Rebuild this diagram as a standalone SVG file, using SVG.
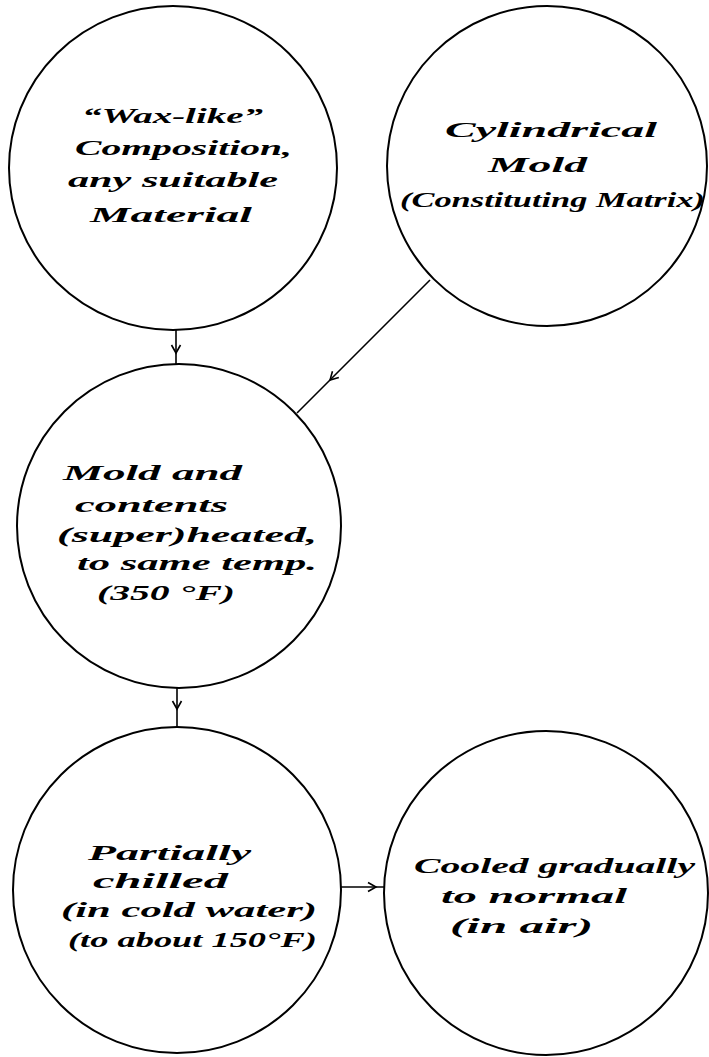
<svg xmlns="http://www.w3.org/2000/svg" width="709" height="1057" viewBox="0 0 709 1057">
<style>
.ring{fill:none;stroke:#000;stroke-width:2}
.lbl{font-family:"Liberation Serif","DejaVu Serif",serif;font-style:italic;font-weight:bold;font-size:22px;fill:#000}
.conn path{fill:none;stroke:#000;stroke-width:1.6}
</style>
<defs>
<marker id="chev" viewBox="-10 -6 12 12" markerWidth="12" markerHeight="12" refX="0" refY="0" orient="auto" markerUnits="userSpaceOnUse">
<path d="M-8,-4.5 L0,0 L-8,4.5" fill="none" stroke="#000" stroke-width="1.6"/>
</marker>
</defs>
<rect width="709" height="1057" fill="#fff"/>
<g id="wax">
<ellipse class="ring" cx="173" cy="168" rx="164" ry="162"/>
<text class="lbl" x="82" y="123" textLength="181" lengthAdjust="spacingAndGlyphs">“Wax-like”</text>
<text class="lbl" x="75" y="155" textLength="217" lengthAdjust="spacingAndGlyphs">Composition,</text>
<text class="lbl" x="68" y="187" textLength="210" lengthAdjust="spacingAndGlyphs">any suitable</text>
<text class="lbl" x="90" y="222" textLength="162" lengthAdjust="spacingAndGlyphs">Material</text>
</g>
<g id="mold">
<ellipse class="ring" cx="547" cy="166" rx="160" ry="160"/>
<text class="lbl" x="445" y="137" textLength="212" lengthAdjust="spacingAndGlyphs">Cylindrical</text>
<text class="lbl" x="488" y="172" textLength="99" lengthAdjust="spacingAndGlyphs">Mold</text>
<text class="lbl" x="400" y="207" textLength="305" lengthAdjust="spacingAndGlyphs">(Constituting Matrix)</text>
</g>
<g id="heated">
<ellipse class="ring" cx="179" cy="526" rx="162" ry="162"/>
<text class="lbl" x="63" y="480" textLength="179" lengthAdjust="spacingAndGlyphs">Mold and</text>
<text class="lbl" x="75" y="512" textLength="153" lengthAdjust="spacingAndGlyphs">contents</text>
<text class="lbl" x="57" y="542" textLength="260" lengthAdjust="spacingAndGlyphs">(super)heated,</text>
<text class="lbl" x="77" y="570" textLength="240" lengthAdjust="spacingAndGlyphs">to same temp.</text>
<text class="lbl" x="97" y="600" textLength="138" lengthAdjust="spacingAndGlyphs">(350 °F)</text>
</g>
<g id="chilled">
<ellipse class="ring" cx="177" cy="890" rx="164" ry="163"/>
<text class="lbl" x="88" y="860" textLength="163" lengthAdjust="spacingAndGlyphs">Partially</text>
<text class="lbl" x="93" y="888" textLength="135" lengthAdjust="spacingAndGlyphs">chilled</text>
<text class="lbl" x="61" y="917" textLength="256" lengthAdjust="spacingAndGlyphs">(in cold water)</text>
<text class="lbl" x="68" y="947" textLength="249" lengthAdjust="spacingAndGlyphs">(to about 150°F)</text>
</g>
<g id="cooled">
<ellipse class="ring" cx="546" cy="893" rx="162" ry="162"/>
<text class="lbl" x="414" y="873" textLength="281" lengthAdjust="spacingAndGlyphs">Cooled gradually</text>
<text class="lbl" x="441" y="903" textLength="186" lengthAdjust="spacingAndGlyphs">to normal</text>
<text class="lbl" x="450" y="933" textLength="143" lengthAdjust="spacingAndGlyphs">(in air)</text>
</g>
<g id="connectors" class="conn">
<path d="M176,330 L176,353 L176,364" marker-mid="url(#chev)"/>
<path d="M430,280 L330,380 L297,413" marker-mid="url(#chev)"/>
<path d="M177,688 L177,709 L177,727" marker-mid="url(#chev)"/>
<path d="M341,887 L376,887 L384,887" marker-mid="url(#chev)"/>
</g>
</svg>
